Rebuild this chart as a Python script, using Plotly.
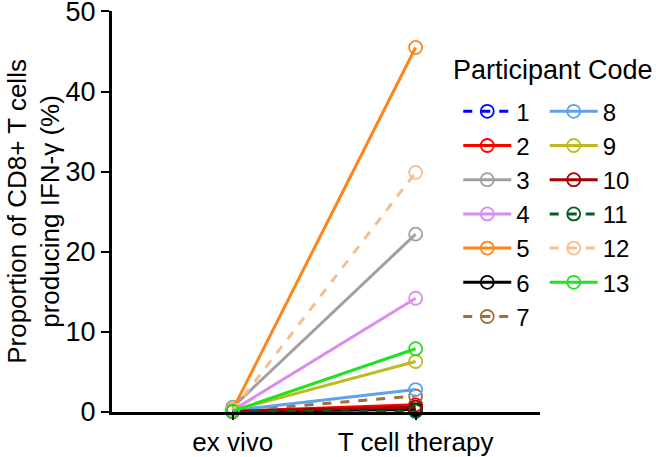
import plotly.graph_objects as go

# participant codes and IFN-gamma+ CD8 proportions (%)
participants = ["1", "2", "3", "4", "5", "6", "7", "8", "9", "10", "11", "12", "13"]
ex_vivo = [0.1, 0.1, 0.6, 0.2, 0.3, 0.1, 0.1, 0.2, 0.2, 0.1, 0.1, 0.2, 0.1]
t_cell_therapy = [0.2, 0.9, 22.2, 14.2, 45.5, 0.3, 2.0, 2.8, 6.3, 0.6, 0.1, 29.9, 7.9]
conditions = ["ex vivo", "T cell therapy"]

colors = ["#0000FF", "#FF0000", "#A0A0A0", "#DA8CF0", "#FF8419", "#000000", "#A0703A",
          "#5EA2EE", "#BEBA22", "#A00000", "#006020", "#F7BE8C", "#22E022"]
dashed = {"1", "7", "11", "12"}

fig = go.Figure()
for i, p in enumerate(participants):
    fig.add_trace(go.Scatter(
        x=[0, 1], y=[ex_vivo[i], t_cell_therapy[i]],
        mode="lines+markers", name=p,
        line=dict(color=colors[i], width=3, dash="dash" if p in dashed else "solid"),
        marker=dict(symbol="circle-open", size=13, color=colors[i], line=dict(width=1.8)),
        cliponaxis=False,
        legend="legend" if i < 7 else "legend2",
    ))

legend_style = dict(font=dict(size=24, color="black"), bgcolor="rgba(0,0,0,0)",
                    itemwidth=48, yanchor="top")

fig.update_layout(
    width=656, height=457,
    margin=dict(l=112, r=116, t=11, b=45, autoexpand=False),
    plot_bgcolor="white", paper_bgcolor="white",
    font=dict(family="Liberation Sans, Arial, sans-serif", color="black"),
    legend=dict(x=0.809, y=0.805, **legend_style),
    legend2=dict(x=1.011, y=0.805, **legend_style),
    xaxis=dict(
        range=[-0.66, 1.68], tickvals=[0, 1], ticktext=conditions,
        showline=True, linecolor="black", linewidth=3, showgrid=False, zeroline=False,
        ticks="outside", ticklen=5, tickwidth=2, tickcolor="black",
        tickfont=dict(size=26),
    ),
    yaxis=dict(
        range=[0, 50.05], tickvals=[0, 10, 20, 30, 40, 50],
        showline=True, linecolor="black", linewidth=3, showgrid=False, zeroline=False,
        ticks="outside", ticklen=8, tickwidth=2, tickcolor="black",
        tickfont=dict(size=27), ticklabeloverflow="allow",
    ),
    annotations=[
        dict(text="Participant Code", xref="paper", yref="paper",
             x=1.03, y=0.853, xanchor="center", yanchor="middle",
             showarrow=False, font=dict(size=27)),
        dict(text="Proportion of CD8+ T cells<br>producing IFN-γ (%)", xref="paper", yref="paper",
             x=-0.183, y=0.501, xanchor="center", yanchor="middle", textangle=-90,
             showarrow=False, font=dict(size=26)),
    ],
)

# drop the default body margin so the figure sits at the page corner
fig.write_html("out.html", config={"displayModeBar": False},
               post_script="document.body.style.margin='0';")
